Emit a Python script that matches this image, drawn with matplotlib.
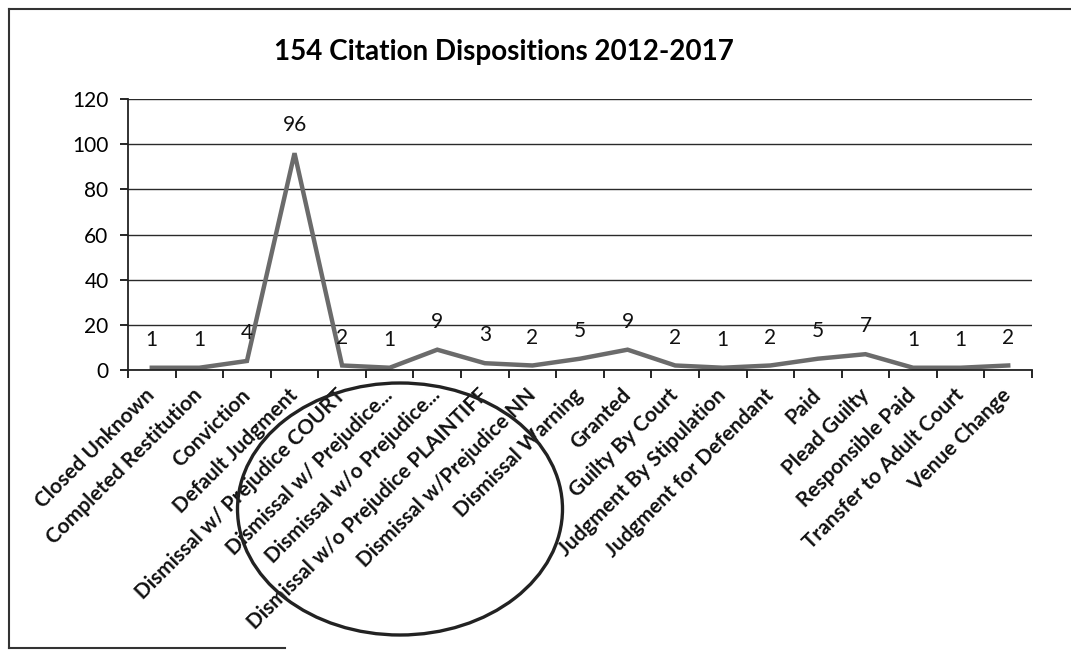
import matplotlib.pyplot as plt
from matplotlib.patches import Ellipse
from matplotlib.lines import Line2D
import numpy as np

# data
categories = ["Closed Unknown", "Completed Restitution", "Conviction", "Default Judgment",
              "Dismissal w/ Prejudice COURT", "Dismissal w/ Prejudice...", "Dismissal w/o Prejudice...",
              "Dismissal w/o Prejudice PLAINTIFF", "Dismissal w/Prejudice NN", "Dismissal Warning",
              "Granted", "Guilty By Court", "Judgment By Stipulation", "Judgment for Defendant",
              "Paid", "Plead Guilty", "Responsible Paid", "Transfer to Adult Court", "Venue Change"]
counts = [1, 1, 4, 96, 2, 1, 9, 3, 2, 5, 9, 2, 1, 2, 5, 7, 1, 1, 2]
yticks = [0, 20, 40, 60, 80, 100, 120]
title = "154 Citation Dispositions 2012-2017"

plt.rcParams['font.family'] = ['Lato', 'DejaVu Sans']

W, H = 1071, 652
fig = plt.figure(figsize=(W / 100, H / 100), dpi=100)
ax = fig.add_axes([128 / W, 1 - 370 / H, (1032 - 128) / W, (370 - 99) / H])

x = np.arange(len(categories))
ax.plot(x, counts, color='#6b6b6b', lw=3.2, solid_joinstyle='miter')
for xi, v in zip(x, counts):
    ax.annotate(str(v), (xi, v), xytext=(0, 20), textcoords='offset points',
                ha='center', va='center', fontsize=15, color='#111111')

ax.set_xlim(-0.5, len(categories) - 0.5)
ax.set_ylim(0, 120)
ax.set_yticks(yticks)
ax.set_yticklabels([str(t) for t in yticks], fontsize=15)
ax.yaxis.grid(True, color='#2a2a2a', lw=1.0)
ax.set_axisbelow(True)

ax.set_xticks(x)
ax.set_xticklabels(categories, rotation=45, ha='right', va='center',
                   rotation_mode='anchor', fontsize=15, fontweight='bold', color='#111111')
ax.set_xticks(np.arange(-0.5, len(categories)), minor=True)
ax.tick_params(axis='x', which='major', length=0, pad=16)
ax.tick_params(axis='x', which='minor', length=6, width=1.2, direction='out')
ax.tick_params(axis='y', length=6, width=1.2, pad=8)

for s in ['top', 'right']:
    ax.spines[s].set_visible(False)
for s in ['left', 'bottom']:
    ax.spines[s].set_color('#222222')
    ax.spines[s].set_linewidth(1.3)

fig.text(504 / W, 1 - 52 / H, title, ha='center', va='center', fontsize=20, fontweight='bold')

# scanned frame (left, top, partial bottom)
fig.add_artist(Line2D([9 / W, 9 / W], [1 - 648 / H, 1 - 9 / H], transform=fig.transFigure, color='#333333', lw=1.5))
fig.add_artist(Line2D([9 / W, 1.0], [1 - 9 / H, 1 - 9 / H], transform=fig.transFigure, color='#333333', lw=1.5))
fig.add_artist(Line2D([9 / W, 285 / W], [1 - 648 / H, 1 - 648 / H], transform=fig.transFigure, color='#333333', lw=1.5))

# hand-drawn circle
fig.add_artist(Ellipse((400 / W, 1 - 509 / H), 325 / W, 252 / H, transform=fig.transFigure,
                       fill=False, ec='#222222', lw=2.4))

fig.savefig('out.png', dpi=100, facecolor='white')
